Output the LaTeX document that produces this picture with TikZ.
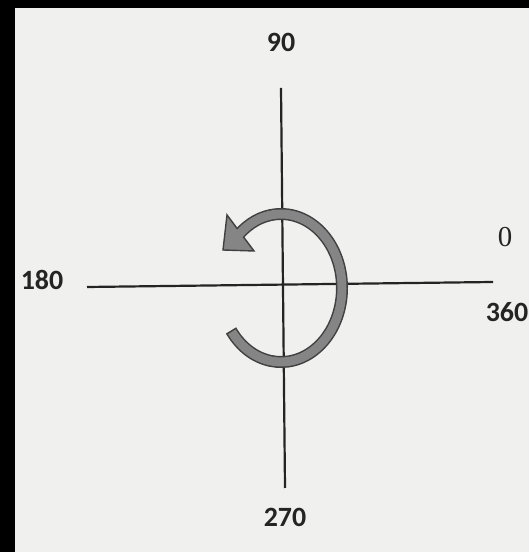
\documentclass[tikz,border=0pt]{standalone}
\usepackage{fontspec}
\setmainfont{Carlito}
\newfontfamily\numserif{Liberation Serif}
\usetikzlibrary{positioning}
\definecolor{page}{HTML}{F0F0EE}
\definecolor{ink}{HTML}{242424}
\definecolor{turnfill}{HTML}{858585}
\definecolor{turnborder}{HTML}{404040}

\begin{document}
\begin{tikzpicture}[
    x=1bp, y=1bp,
    axis/.style={draw=ink, line width=2.2bp},
    deg/.style={font=\fontsize{28}{30}\selectfont\bfseries, text=ink, inner sep=0pt},
    zero/.style={font=\numserif\fontsize{29}{31}\selectfont, text=ink, inner sep=0pt},
]

% === PAGE ===
\fill[black] (0,0) rectangle (529,552);
\fill[page] (15,0) rectangle (529,544);
\useasboundingbox (0,0) rectangle (529,552);

% === AXES ===
\coordinate (top) at (281,464);
\coordinate (bottom) at (285,64);
\coordinate (left) at (87,265);
\coordinate (right) at (493,270);

\draw[axis] (top) -- (bottom);
\draw[axis] (left) -- (right);

\node[deg] (n90) at (281,510) {90};
\node[deg] (n180) at (42,272) {180};
\node[zero] (n0) at (505,315) {0};
\node[deg] (n360) at (507,240) {360};
\node[deg] (n270) at (285,35) {270};

% === TURN ===
\draw[turnborder, line width=12bp]
    (281,264) ++(215:61 and 74) arc[start angle=215, end angle=494, x radius=61, y radius=74];
\filldraw[fill=turnfill, draw=turnborder, line width=1.4bp, line join=miter]
    (227,337) -- (223,302) -- (254,301) -- cycle;
\draw[turnfill, line width=9bp]
    (281,264) ++(216.3:61 and 74) arc[start angle=216.3, end angle=494, x radius=61, y radius=74];

\end{tikzpicture}
\end{document}
